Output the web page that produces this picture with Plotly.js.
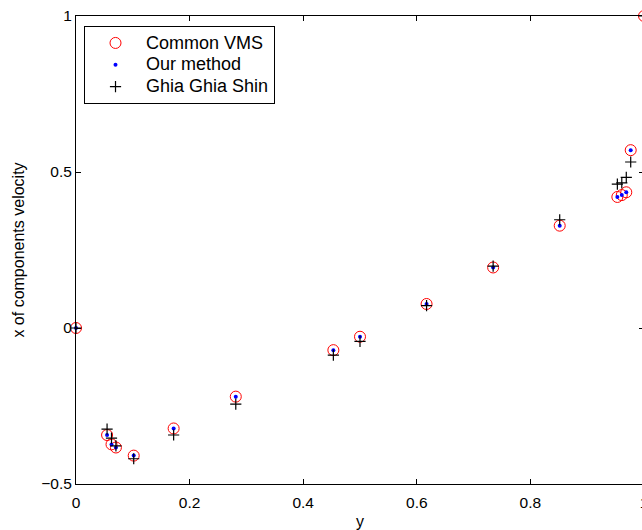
<!DOCTYPE html>
<html>
<head>
<meta charset="utf-8">
<script src="https://cdn.plot.ly/plotly-3.0.1.min.js"></script>
<style>
html, body { margin: 0; padding: 0; overflow: hidden; background: #fff; }
#chart { width: 660px; height: 530px; }
</style>
</head>
<body>
<div id="chart"></div>
<script>
// Positions along the vertical centreline (plotted on the x axis, labelled "y")
const yPositions = [0, 0.0547, 0.0625, 0.0703, 0.1016, 0.1719, 0.2813, 0.4531, 0.5, 0.6172, 0.7344, 0.8516, 0.9531, 0.9609, 0.9688, 0.9766, 1];
// x component of velocity
const commonVMS = [0, -0.343, -0.373, -0.383, -0.409, -0.322, -0.220, -0.071, -0.028, 0.077, 0.194, 0.328, 0.420, 0.426, 0.435, 0.570, 1];
const ourMethod = [0, -0.343, -0.373, -0.383, -0.409, -0.322, -0.220, -0.071, -0.028, 0.077, 0.194, 0.328, 0.420, 0.426, 0.435, 0.570, 1];
const ghiaGhiaShin = [0, -0.324, -0.353, -0.378, -0.419, -0.343, -0.244, -0.087, -0.043, 0.072, 0.198, 0.347, 0.461, 0.465, 0.483, 0.532, 1];
const seriesNames = ["Common VMS", "Our method", "Ghia Ghia Shin"];
const xTicks = [0, 0.2, 0.4, 0.6, 0.8, 1];
const xTickText = ["0", "0.2", "0.4", "0.6", "0.8", "1"];
const yTicks = [-0.5, 0, 0.5, 1];
const yTickText = ["\u22120.5", "0", "0.5", "1"];

const font = "Liberation Sans, Arial, sans-serif";
const legendName = (s) => "<span style='font-size:18px'>" + s + "</span>";

const traces = [
  {
    x: yPositions, y: commonVMS, name: legendName(seriesNames[0]), type: "scatter", mode: "markers",
    cliponaxis: false,
    marker: { symbol: "circle-open", size: 11, color: "#ff0000", line: { width: 1, color: "#ff0000" } }
  },
  {
    x: yPositions, y: ourMethod, name: legendName(seriesNames[1]), type: "scatter", mode: "markers",
    cliponaxis: false,
    marker: { symbol: "circle", size: 4, color: "#0000ff" }
  },
  {
    x: yPositions, y: ghiaGhiaShin, name: legendName(seriesNames[2]), type: "scatter", mode: "markers",
    cliponaxis: false,
    marker: { symbol: "cross-thin", size: 8, color: "#000000", line: { width: 1.2, color: "#000000" } }
  }
];

const layout = {
  width: 660, height: 530,
  margin: { l: 76, r: 16, t: 16, b: 46, pad: 0 },
  paper_bgcolor: "#ffffff", plot_bgcolor: "#ffffff",
  font: { family: font, size: 15.5, color: "#000000" },
  showlegend: true,
  legend: {
    x: 0.0141, y: 0.9786, xanchor: "left", yanchor: "top",
    bordercolor: "#000000", borderwidth: 1, bgcolor: "#ffffff",
    font: { family: font, size: 14.5, color: "#000000" },
    itemwidth: 51, tracegroupgap: 0
  },
  xaxis: {
    range: [0, 1], autorange: false,
    tickvals: xTicks, ticktext: xTickText,
    ticks: "inside", ticklen: 5, tickwidth: 1, tickcolor: "#000",
    showline: true, linecolor: "#000", linewidth: 1, mirror: "ticks",
    showgrid: false, zeroline: false,
    ticklabelstandoff: 4,
    tickfont: { family: font, size: 15.5, color: "#000" },
    title: { text: "y", font: { family: font, size: 16, color: "#000" }, standoff: 6 }
  },
  yaxis: {
    range: [-0.5, 1], autorange: false,
    tickvals: yTicks, ticktext: yTickText,
    ticks: "inside", ticklen: 5, tickwidth: 1, tickcolor: "#000",
    showline: true, linecolor: "#000", linewidth: 1, mirror: "ticks",
    showgrid: false, zeroline: false,
    tickfont: { family: font, size: 15.5, color: "#000" },
    title: { text: "x of components velocity", font: { family: font, size: 16, color: "#000" }, standoff: 12 }
  }
};

Plotly.newPlot("chart", traces, layout, { displayModeBar: false, staticPlot: true });
</script>
</body>
</html>
